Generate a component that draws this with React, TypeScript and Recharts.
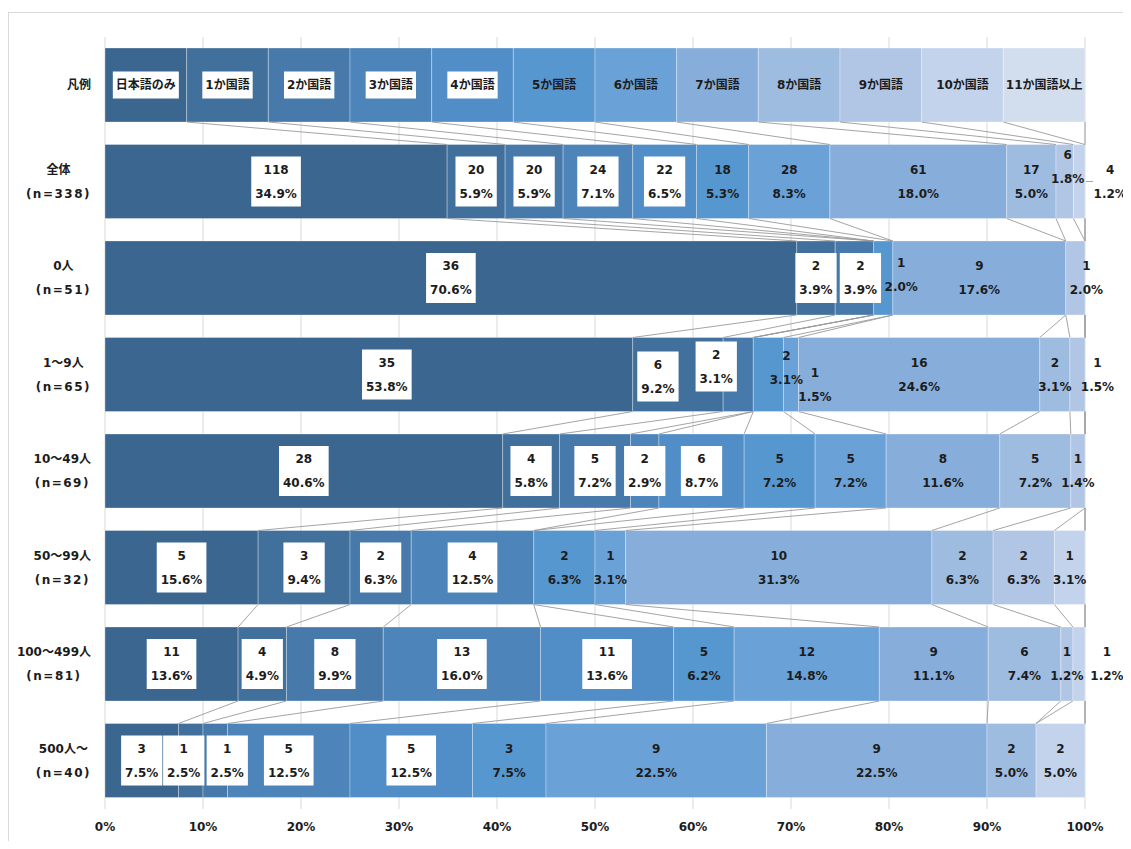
import { Bar, BarChart, CartesianGrid, XAxis, YAxis } from "recharts";

const categories = ["凡例", "全体", "0人", "1～9人", "10～49人", "50～99人", "100～499人", "500人～"];
const sampleSizes = [0, 338, 51, 65, 69, 32, 81, 40];
const seriesNames = [
  "日本語のみ", "1か国語", "2か国語", "3か国語", "4か国語", "5か国語",
  "6か国語", "7か国語", "8か国語", "9か国語", "10か国語", "11か国語以上",
];

// legend row: equal shares
const legendShares = [1, 1, 1, 1, 1, 1, 1, 1, 1, 1, 1, 1];
const countsAll = [118, 20, 20, 24, 22, 18, 28, 61, 17, 6, 4, 0];
const counts0 = [36, 2, 2, 0, 0, 1, 0, 9, 0, 1, 0, 0];
const counts1to9 = [35, 6, 2, 0, 0, 2, 1, 16, 2, 1, 0, 0];
const counts10to49 = [28, 4, 5, 2, 6, 5, 5, 8, 5, 1, 0, 0];
const counts50to99 = [5, 3, 2, 4, 0, 2, 1, 10, 2, 2, 1, 0];
const counts100to499 = [11, 4, 8, 13, 11, 5, 12, 9, 6, 1, 1, 0];
const counts500plus = [3, 1, 1, 5, 5, 3, 9, 9, 2, 0, 2, 0];

const xTicks = [0, 10, 20, 30, 40, 50, 60, 70, 80, 90, 100];

const colors = [
  "#3b6690", "#41709c", "#477aab", "#4d84ba", "#518dc6", "#5797d0",
  "#6aa1d7", "#87aedb", "#9ebbe0", "#b1c6e5", "#c3d3eb", "#d2ddee",
];

// manual label nudges (row-series): [dx, dy]
const labelShift: Record<string, [number, number]> = {
  "1-9": [3, -15],
  "1-10": [31, 0],
  "2-2": [6, 0],
  "2-5": [18, -3],
  "2-9": [11, 0],
  "3-0": [18, 0],
  "3-1": [-20, 2],
  "3-2": [-22, -8],
  "3-5": [18, -7],
  "3-6": [24, 10],
  "3-9": [20, 0],
  "6-10": [28, 0],
  "7-1": [-7, 0],
  "7-2": [12, 0],
};
const leaderLines = ["1-10"];

const rowCounts = [legendShares, countsAll, counts0, counts1to9, counts10to49, counts50to99, counts100to499, counts500plus];

const rows = rowCounts.map((cnts, i) => {
  const total = cnts.reduce((a, b) => a + b, 0);
  const pct = cnts.map((c) => (c / total) * 100);
  const cum: number[] = [];
  pct.forEach((p, k) => cum.push((k ? cum[k - 1] : 0) + p));
  return { name: categories[i], counts: cnts, pct, cum };
});

const data = rows.map((r) => {
  const o: Record<string, number | string> = { name: r.name, full: 100 };
  r.pct.forEach((p, k) => (o[`s${k}`] = p));
  return o;
});

const FONT = '"DejaVu Sans", "Noto Sans CJK JP", sans-serif';
const INK = "#1c1c1c";
let ctx: CanvasRenderingContext2D | null = null;
const textWidth = (s: string, spacing = 0) => {
  if (!ctx) ctx = document.createElement("canvas").getContext("2d");
  if (!ctx) return s.length * 8;
  ctx.font = `bold 12px ${FONT}`;
  return ctx.measureText(s).width + spacing * s.length;
};

const geom: Record<number, { top: number; bottom: number }> = {};

function Overlay(props: any) {
  const { x, y, width, height, payload } = props;
  const ri = categories.indexOf(payload.name);
  const row = rows[ri];
  const px = (p: number) => x + (p / 100) * width;
  geom[ri] = { top: y, bottom: y + height };
  const cy = y + height / 2;
  const out: any[] = [];

  const prev = geom[ri - 1];
  if (ri > 0 && prev) {
    rows[ri - 1].cum.forEach((c, k) => {
      out.push(
        <line key={`l${k}`} x1={px(c)} y1={prev.bottom} x2={px(row.cum[k])} y2={y}
          stroke="#9a9a9a" strokeWidth={0.9} />
      );
    });
  }

  row.counts.forEach((cnt, k) => {
    if (!cnt) return;
    const start = k ? row.cum[k - 1] : 0;
    const [dx, dy] = labelShift[`${ri}-${k}`] ?? [0, 0];
    const cx = px(start + row.pct[k] / 2) + dx;
    const c = cy + dy;
    if (ri === 0) {
      const t = seriesNames[k];
      const w = textWidth(t) + 6;
      out.push(
        <g key={`t${k}`}>
          {k <= 4 && <rect x={cx - w / 2} y={c - 13.5} width={w} height={27} fill="#fff" />}
          <text x={cx} y={c} textAnchor="middle" dominantBaseline="central" fontFamily={FONT}
            fontWeight="bold" fontSize={12} fill={INK}>{t}</text>
        </g>
      );
      return;
    }
    const t1 = String(cnt);
    const t2 = row.pct[k].toFixed(1) + "%";
    const w = Math.max(textWidth(t1), textWidth(t2)) + 8;
    out.push(
      <g key={`t${k}`}>
        {leaderLines.includes(`${ri}-${k}`) && (
          <line x1={px(100) + 1} y1={cy} x2={px(100) + 8} y2={cy} stroke="#9a9a9a" strokeWidth={0.9} />
        )}
        {k <= 4 && <rect x={cx - w / 2} y={c - 25} width={w} height={50} fill="#fff" />}
        <text x={cx} y={c - 12} textAnchor="middle" dominantBaseline="central" fontFamily={FONT}
          fontWeight="bold" fontSize={12} fill={INK}>{t1}</text>
        <text x={cx} y={c + 12} textAnchor="middle" dominantBaseline="central" fontFamily={FONT}
          fontWeight="bold" fontSize={12} fill={INK}>{t2}</text>
      </g>
    );
  });
  return <g>{out}</g>;
}

function YTick(props: any) {
  const { x, y, payload } = props;
  const i = categories.indexOf(payload.value);
  const lines = i === 0 ? [payload.value] : [payload.value, `(n=${sampleSizes[i]})`];
  const bw = Math.max(...lines.map((l: string, j: number) => textWidth(l, j === 1 ? 1.5 : 0)));
  const cx = x - bw / 2;
  return (
    <g>
      {lines.map((l: string, j: number) => (
        <text key={j} x={cx} y={lines.length === 1 ? y : y + (j === 0 ? -12 : 12)} textAnchor="middle"
          dominantBaseline="central" fontFamily={FONT} fontWeight="bold" fontSize={12} fill={INK}
          letterSpacing={j === 1 ? 1.5 : 0}>{l}</text>
      ))}
    </g>
  );
}

function XTick(props: any) {
  const { x, y, payload } = props;
  return (
    <text x={x} y={y + 18} textAnchor="middle" dominantBaseline="central" fontFamily={FONT}
      fontWeight="bold" fontSize={12} fill={INK}>{`${payload.value}%`}</text>
  );
}

export default function App() {
  return (
    <div style={{ position: "relative", width: 1123, height: 833 }}>
      <div style={{
        position: "absolute", left: 0, top: 4, width: 1123, height: 829, boxSizing: "border-box",
        borderLeft: "1px solid #d9d9d9", borderTop: "1px solid #d9d9d9",
      }} />
      <div style={{ position: "absolute", left: 0, top: 0 }}>
        <BarChart width={1123} height={833} data={data} layout="vertical" barSize={74} barGap={-74}
          margin={{ top: 29, right: 46, bottom: 0, left: 0 }}>
          <CartesianGrid horizontal={false} stroke="#d9d9d9" />
          <XAxis type="number" domain={[0, 100]} ticks={xTicks} height={32}
            axisLine={false} tickLine={false} tickSize={0} tickMargin={0} tick={<XTick />} />
          <YAxis type="category" dataKey="name" width={97} axisLine={false} tickLine={false}
            tickSize={0} tickMargin={14} interval={0} tick={<YTick />} />
          {colors.map((c, k) => (
            <Bar key={k} dataKey={`s${k}`} stackId="a" fill={c} stroke="rgba(255,255,255,0.3)"
              strokeWidth={1} isAnimationActive={false} />
          ))}
          <Bar dataKey="full" fill="none" isAnimationActive={false} shape={<Overlay />} />
        </BarChart>
      </div>
    </div>
  );
}
